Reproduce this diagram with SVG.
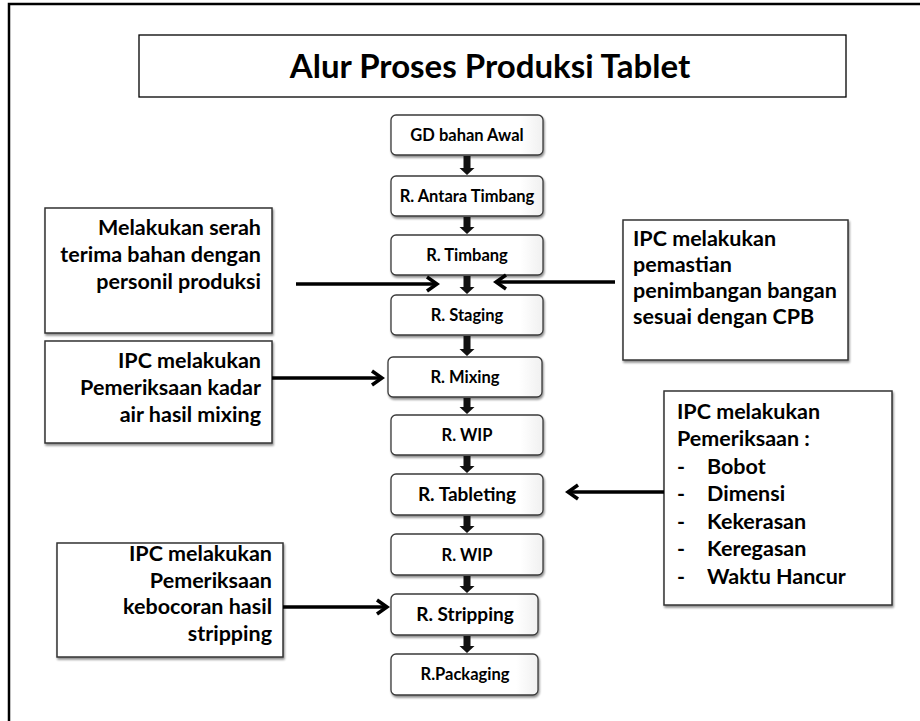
<svg xmlns="http://www.w3.org/2000/svg" width="920" height="721" viewBox="0 0 920 721">
<style>
.frame{fill:none;stroke:#000;stroke-width:2.5}
.title{fill:#fff;stroke:#000;stroke-width:1.3}
.step{fill:url(#g);stroke:#3a3a3a;stroke-width:1.3;filter:url(#sh)}
.note{fill:#fff;stroke:#333;stroke-width:1.5;filter:url(#sh)}
text{font-family:Lato,"Open Sans","Liberation Sans",sans-serif;font-weight:700;fill:#000}
.t{font-size:33px;text-anchor:middle}
.s{font-size:16.5px;text-anchor:middle}
.sb{font-size:19px;text-anchor:middle}
.n{font-size:21.5px}
.r{text-anchor:end}
.dn{fill:#111}
.arr{stroke:#000;stroke-width:3.5;fill:none;marker-end:url(#chev)}
</style>
<defs>
<linearGradient id="g" x1="0" y1="0" x2="1" y2="0">
<stop offset="0" stop-color="#fff"/><stop offset="0.85" stop-color="#fff"/><stop offset="1" stop-color="#f0f0f0"/>
</linearGradient>
<filter id="sh" x="-5%" y="-10%" width="115%" height="130%">
<feGaussianBlur in="SourceAlpha" stdDeviation="1"/>
<feOffset dx="1" dy="2" result="o"/>
<feComponentTransfer><feFuncA type="linear" slope="0.45"/></feComponentTransfer>
<feMerge><feMergeNode/><feMergeNode in="SourceGraphic"/></feMerge>
</filter>
<marker id="chev" viewBox="0 0 16 18" refX="13" refY="9" markerWidth="16" markerHeight="18" markerUnits="userSpaceOnUse" orient="auto">
<path d="M3,2 L13,9 L3,16" fill="none" stroke="#000" stroke-width="3.5"/>
</marker>
</defs>

<rect class="frame" x="9" y="4" width="930" height="740"/>

<g id="title">
<rect class="title" x="139" y="35" width="707" height="62"/>
<text class="t" x="490" y="78">Alur Proses Produksi Tablet</text>
</g>

<g id="gd"><rect class="step" x="391" y="115" width="152" height="40" rx="5"/><text class="s" x="467" y="141">GD bahan Awal</text></g>
<g id="antara"><rect class="step" x="391" y="176" width="152" height="40" rx="5"/><text class="s" x="467" y="202">R. Antara Timbang</text></g>
<g id="timbang"><rect class="step" x="391" y="235" width="152" height="40" rx="5"/><text class="s" x="467" y="261">R. Timbang</text></g>
<g id="staging"><rect class="step" x="391" y="295" width="152" height="40" rx="5"/><text class="s" x="467" y="321">R. Staging</text></g>
<g id="mixing"><rect class="step" x="388" y="357" width="154" height="40" rx="5"/><text class="s" x="465" y="383">R. Mixing</text></g>
<g id="wip1"><rect class="step" x="391" y="415" width="152" height="40" rx="5"/><text class="s" x="467" y="441">R. WIP</text></g>
<g id="tableting"><rect class="step" x="391" y="474" width="152" height="41" rx="5"/><text class="sb" x="467" y="501">R. Tableting</text></g>
<g id="wip2"><rect class="step" x="391" y="534" width="152" height="41" rx="5"/><text class="s" x="467" y="561">R. WIP</text></g>
<g id="stripping"><rect class="step" x="391" y="594" width="147" height="41" rx="5"/><text class="sb" x="465" y="621">R. Stripping</text></g>
<g id="packaging"><rect class="step" x="391" y="654" width="147" height="41" rx="5"/><text class="s" x="465" y="680">R.Packaging</text></g>

<g id="note-serah">
<rect class="note" x="45" y="208" width="227" height="125"/>
<text class="n r" x="261" y="235">Melakukan serah</text>
<text class="n r" x="261" y="262">terima bahan dengan</text>
<text class="n r" x="261" y="289">personil produksi</text>
</g>

<g id="note-pemastian">
<rect class="note" x="623" y="220" width="225" height="140"/>
<text class="n" x="633" y="246">IPC melakukan</text>
<text class="n" x="633" y="272">pemastian</text>
<text class="n" x="633" y="298">penimbangan bangan</text>
<text class="n" x="633" y="324">sesuai dengan CPB</text>
</g>

<g id="note-kadar">
<rect class="note" x="45" y="341" width="227" height="102"/>
<text class="n r" x="261" y="368">IPC melakukan</text>
<text class="n r" x="261" y="395">Pemeriksaan kadar</text>
<text class="n r" x="261" y="422">air hasil mixing</text>
</g>

<g id="note-tableting">
<rect class="note" x="664" y="391" width="228" height="214"/>
<text class="n" x="677" y="419">IPC melakukan</text>
<text class="n" x="677" y="446">Pemeriksaan :</text>
<text class="n" x="677" y="474">-</text><text class="n" x="707" y="474">Bobot</text>
<text class="n" x="677" y="501">-</text><text class="n" x="707" y="501">Dimensi</text>
<text class="n" x="677" y="529">-</text><text class="n" x="707" y="529">Kekerasan</text>
<text class="n" x="677" y="556">-</text><text class="n" x="707" y="556">Keregasan</text>
<text class="n" x="677" y="584">-</text><text class="n" x="707" y="584">Waktu Hancur</text>
</g>

<g id="note-stripping">
<rect class="note" x="57" y="543" width="226" height="114"/>
<text class="n r" x="272" y="561">IPC melakukan</text>
<text class="n r" x="272" y="588">Pemeriksaan</text>
<text class="n r" x="272" y="614">kebocoran hasil</text>
<text class="n r" x="272" y="641">stripping</text>
</g>

<g id="connectors">
<path class="dn" d="M463.5,156 H470.5 V168 H474.5 L467,175 L459.5,168 H463.5 Z"/>
<path class="dn" d="M463.5,217 H470.5 V227 H474.5 L467,234 L459.5,227 H463.5 Z"/>
<path class="dn" d="M463.5,276 H470.5 V287 H474.5 L467,294 L459.5,287 H463.5 Z"/>
<path class="dn" d="M463.5,336 H470.5 V349 H474.5 L467,356 L459.5,349 H463.5 Z"/>
<path class="dn" d="M463.5,398 H470.5 V407 H474.5 L467,414 L459.5,407 H463.5 Z"/>
<path class="dn" d="M463.5,456 H470.5 V466 H474.5 L467,473 L459.5,466 H463.5 Z"/>
<path class="dn" d="M463.5,516 H470.5 V526 H474.5 L467,533 L459.5,526 H463.5 Z"/>
<path class="dn" d="M463.5,576 H470.5 V586 H474.5 L467,593 L459.5,586 H463.5 Z"/>
<path class="dn" d="M463.5,636 H470.5 V646 H474.5 L467,653 L459.5,646 H463.5 Z"/>
<line class="arr" x1="296" y1="284" x2="437" y2="284"/>
<line class="arr" x1="615" y1="282" x2="496" y2="282"/>
<line class="arr" x1="272" y1="378" x2="382" y2="378"/>
<line class="arr" x1="664" y1="492" x2="568" y2="492"/>
<line class="arr" x1="283" y1="607" x2="387" y2="607"/>
</g>
</svg>
